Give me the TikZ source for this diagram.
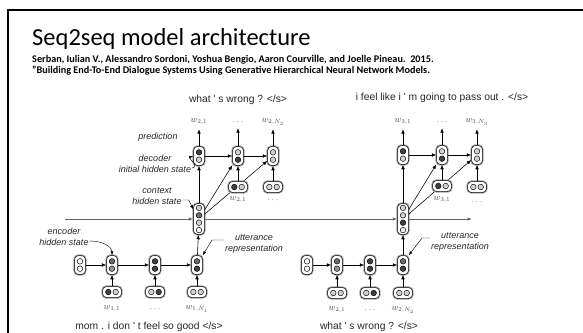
\documentclass[tikz,border=0pt]{standalone}
\usepackage{fontspec}
\setmainfont{Carlito}
\newfontfamily\figfont{Liberation Sans}
\usetikzlibrary{arrows.meta}

\definecolor{cdark}{gray}{0.25}
\definecolor{cgray}{gray}{0.42}
\definecolor{cmid}{gray}{0.58}
\definecolor{clight}{gray}{0.82}
\definecolor{cwhite}{gray}{0.95}

% cells: two units stacked, two units side by side, four units (context)
\newcommand{\vcell}[4]{%
  \node[vbox] (#1) at (#2) {};
  \node[unit,fill=#3] at ([yshift=3.7pt]#1.center) {};
  \node[unit,fill=#4] at ([yshift=-3.7pt]#1.center) {};}
\newcommand{\hcell}[4]{%
  \node[hbox] (#1) at (#2) {};
  \node[unit,fill=#3] at ([xshift=-3.7pt]#1.center) {};
  \node[unit,fill=#4] at ([xshift=3.7pt]#1.center) {};}
\newcommand{\ccell}[6]{%
  \node[cbox] (#1) at (#2) {};
  \node[unit,fill=#3] at ([yshift=11.1pt]#1.center) {};
  \node[unit,fill=#4] at ([yshift=3.7pt]#1.center) {};
  \node[unit,fill=#5] at ([yshift=-3.7pt]#1.center) {};
  \node[unit,fill=#6] at ([yshift=-11.1pt]#1.center) {};}

\begin{document}
\begin{tikzpicture}[x=1pt,y=-1pt]
      % Define styles for nodes
      \tikzstyle{vbox} = [draw, rectangle, rounded corners=4pt, fill=white,
      line width=.5pt, minimum width=11pt, minimum height=19pt, inner sep=0pt,
      preaction={draw=black!35, line width=2.4pt}]
      \tikzstyle{hbox} = [vbox, minimum width=19pt, minimum height=11pt]
      \tikzstyle{cbox} = [vbox, minimum height=31pt]
      \tikzstyle{unit} = [draw, circle, inner sep=0pt, minimum size=5.6pt,
      line width=.45pt]
      \tikzstyle{arr} = [-{Latex[length=4.5pt,width=3.6pt]}, line width=.55pt]
      \tikzstyle{pointer} = [-{Latex[length=4pt,width=3pt]}, line width=.45pt]
      \tikzstyle{sentence} = [font=\figfont\fontsize{10.3}{12}\selectfont,
      text=black!85]
      \tikzstyle{note} = [font=\figfont\itshape\fontsize{9}{10.5}\selectfont,
      align=center, text=black!85, inner sep=1pt]
      \tikzstyle{word} = [font=\fontsize{9}{10}\selectfont, text=black!70,
      inner sep=1pt]

      \useasboundingbox (0,0) rectangle (583,332);

      % Slide frame and heading
      \draw[line width=2.5pt] (8,340) -- (8,10) -- (590,10);
      \node[anchor=base west, inner sep=0pt] (title) at (32,45)
      {\fontsize{24.5}{28}\selectfont Seq2seq model architecture};
      \node[anchor=base west, inner sep=0pt] (cite1) at (32,62)
      {\bfseries\fontsize{10.2}{12}\selectfont Serban, Iulian V., Alessandro
      Sordoni, Yoshua Bengio, Aaron Courville, and Joelle Pineau.\ \ 2015.};
      \node[anchor=base west, inner sep=0pt] (cite2) at (32,73.5)
      {\bfseries\fontsize{10.2}{12}\selectfont "Building End-To-End Dialogue
      Systems Using Generative Hierarchical Neural Network Models.};

      % First utterance: encoder
      \vcell{h10}{80,265}{cwhite}{cwhite}
      \vcell{h11}{112,265}{cgray}{cmid}
      \vcell{h12}{155,265}{cdark}{cdark}
      \vcell{h13}{197,265}{cgray}{cdark}
      \hcell{x11}{112,292}{cdark}{clight}
      \hcell{x12}{155,292}{clight}{cdark}
      \hcell{x13}{197,292}{clight}{clight}
      \node[word] (lx11) at (112,309) {$w_{1,1}$};
      \node[word] (lx12) at (155,309) {$\cdots$};
      \node[word] (lx13) at (197,309) {$w_{1,N_1}$};
      \node[sentence] at (149,327) {mom . i don ' t feel so good </s>};

      % Second utterance: encoder
      \vcell{h20}{307,265}{cwhite}{cwhite}
      \vcell{h21}{337,265}{cgray}{cmid}
      \vcell{h22}{370,265}{cdark}{cdark}
      \vcell{h23}{403,265}{cgray}{cdark}
      \hcell{x21}{337,293}{clight}{clight}
      \hcell{x22}{370,293}{clight}{cdark}
      \hcell{x23}{403,293}{clight}{clight}
      \node[word] (lx21) at (337,310) {$w_{2,1}$};
      \node[word] (lx22) at (370,310) {$\cdots$};
      \node[word] (lx23) at (403,310) {$w_{2,N_2}$};
      \node[sentence] at (369,327) {what ' s wrong ? </s>};

      % Context states
      \ccell{c1}{199,219}{clight}{cgray}{clight}{cwhite}
      \ccell{c2}{403,219}{clight}{clight}{cdark}{cwhite}
      \coordinate (cin) at (65,219);
      \coordinate (cout) at (472,219);

      % Decoders
      \vcell{d11}{199,156}{cdark}{clight}
      \vcell{d12}{238,156}{clight}{cdark}
      \vcell{d13}{273,156}{clight}{clight}
      \vcell{d21}{403,155}{cdark}{clight}
      \vcell{d22}{442,155}{clight}{cdark}
      \vcell{d23}{477,155}{clight}{clight}
      \node[word] (ly11) at (199,122) {$w_{2,1}$};
      \node[word] (ly12) at (238,122) {$\cdots$};
      \node[word] (ly13) at (273,122) {$w_{2,N_2}$};
      \node[word] (ly21) at (403,122) {$w_{3,1}$};
      \node[word] (ly22) at (442,122) {$\cdots$};
      \node[word] (ly23) at (477,122) {$w_{3,N_3}$};
      \node[sentence] at (238,100) {what ' s wrong ? </s>};
      \node[sentence] at (442,98) {i feel like i ' m going to pass out . </s>};

      % Connections
      \draw[arr] (h10) -- (h11);
      \draw[arr] (h11) -- (h12);
      \draw[arr] (h12) -- (h13);
      \draw[arr] (h20) -- (h21);
      \draw[arr] (h21) -- (h22);
      \draw[arr] (h22) -- (h23);
      \draw[arr] (x11) -- (h11);
      \draw[arr] (x12) -- (h12);
      \draw[arr] (x13) -- (h13);
      \draw[arr] (x21) -- (h21);
      \draw[arr] (x22) -- (h22);
      \draw[arr] (x23) -- (h23);
      \draw[arr] (h13) -- (c1);
      \draw[arr] (h23) -- (c2);
      \draw[arr, black!60, line width=.9pt] (cin) -- (c1);
      \draw[arr, black!60, line width=.9pt] (c1) -- (c2);
      \draw[arr, black!60, line width=.9pt] (c2) -- (cout);
      \draw[arr] (c1) -- (d11);
      \draw[arr] (c1) -- (d12);
      \draw[arr] (c1) -- (d13);
      \draw[arr] (c2) -- (d21);
      \draw[arr] (c2) -- (d22);
      \draw[arr] (c2) -- (d23);
      \draw[arr] (d11) -- (d12);
      \draw[arr] (d12) -- (d13);
      \draw[arr] (d21) -- (d22);
      \draw[arr] (d22) -- (d23);
      \draw[arr, shorten >=3pt] (d11) -- (ly11);
      \draw[arr, shorten >=3pt] (d12) -- (ly12);
      \draw[arr, shorten >=3pt] (d13) -- (ly13);
      \draw[arr, shorten >=3pt] (d21) -- (ly21);
      \draw[arr, shorten >=3pt] (d22) -- (ly22);
      \draw[arr, shorten >=3pt] (d23) -- (ly23);

      % Previous words fed to the decoders (drawn over the context lines)
      \hcell{y11}{238,187}{cdark}{clight}
      \hcell{y12}{273,187}{clight}{clight}
      \hcell{y21}{442,186}{cdark}{clight}
      \hcell{y22}{477,187}{clight}{clight}
      \node[word] (lw11) at (238,200) {$w_{2,1}$};
      \node[word] (lw12) at (273,200) {$\cdots$};
      \node[word] (lw21) at (442,200) {$w_{3,1}$};
      \node[word] (lw22) at (477,202) {$\cdots$};
      \draw[arr] (y11) -- (d12);
      \draw[arr] (y12) -- (d13);
      \draw[arr] (y21) -- (d22);
      \draw[arr] (y22) -- (d23);

      % Labels with pointers
      \node[note] (pred) at (158,137) {prediction};
      \node[note] (declbl) at (155,164) {decoder\\initial hidden state};
      \node[note] (ctxlbl) at (157,196) {context\\hidden state};
      \node[note] (enclbl) at (64,237) {encoder\\hidden state};
      \node[note] (utt1) at (254,244) {utterance\\representation};
      \node[note] (utt2) at (460,242) {utterance\\representation};
      \draw[pointer] ([yshift=-4pt]declbl.east) .. controls +(8,-2) and
      +(-6,2) .. (d11.west);
      \draw[pointer] ([yshift=-4pt]ctxlbl.east) -- ++(6,0) --
      ([yshift=-6pt]c1.north west);
      \draw[pointer] ([yshift=-4pt]enclbl.east) .. controls +(14,0) and
      +(0,-8) .. (h11.north);
      \draw[pointer] ([yshift=4pt]utt1.west) -- ++(-12,0) -- (h13.north east);
      \draw[pointer] ([yshift=4pt]utt2.west) -- ++(-8,0) -- (h23.north east);

\end{tikzpicture}
\end{document}
